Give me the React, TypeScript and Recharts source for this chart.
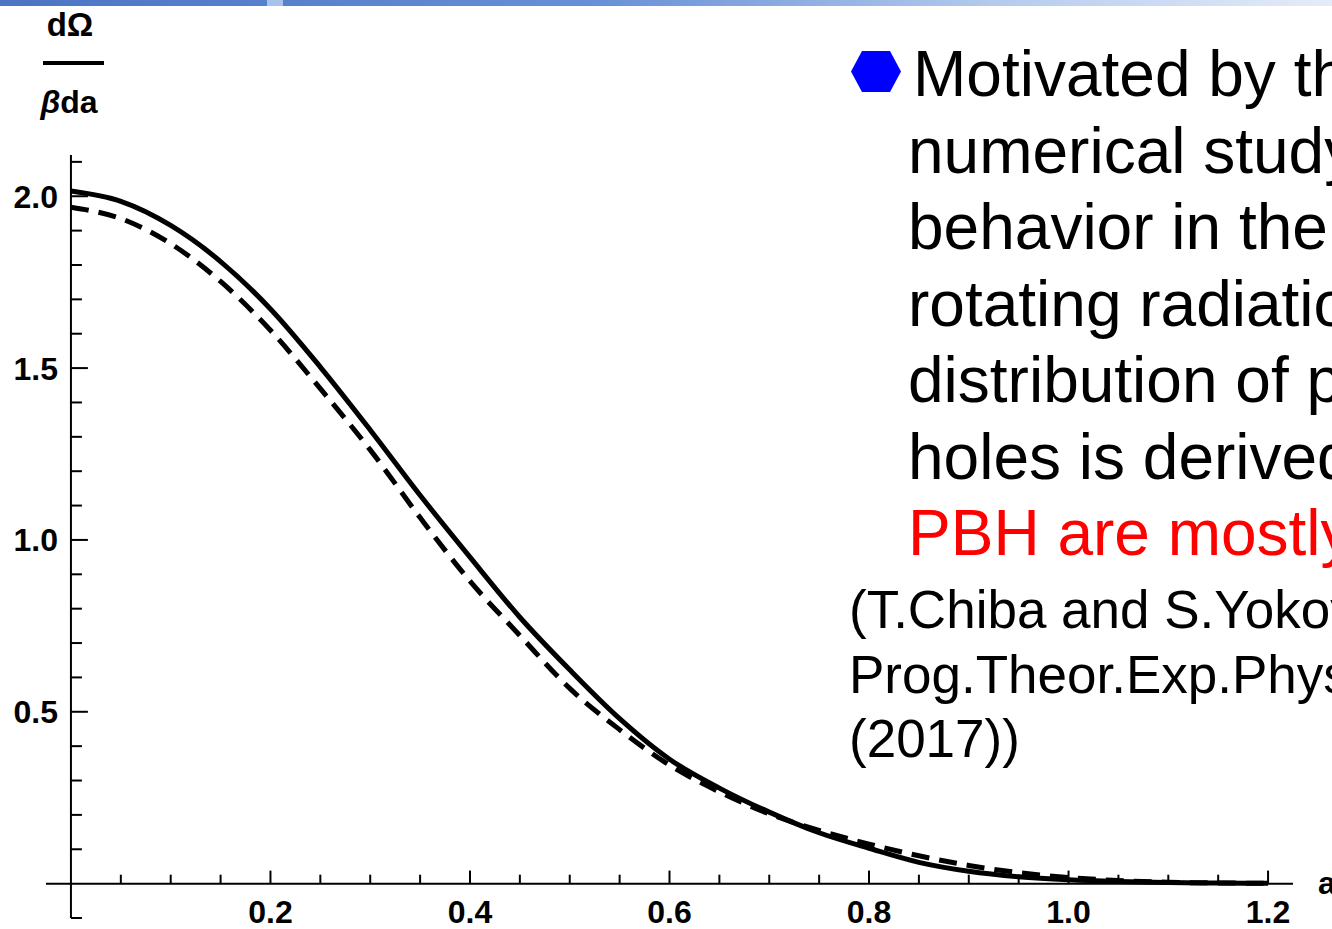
import React from 'react';
import { LineChart, Line, XAxis, YAxis, ReferenceLine } from 'recharts';

// Spin parameter grid and the two distribution curves
const aGrid = [0, 0.05, 0.1, 0.15, 0.2, 0.25, 0.3, 0.35, 0.4, 0.45, 0.5, 0.55, 0.6, 0.65, 0.7, 0.75, 0.8, 0.85, 0.9, 0.95, 1.0, 1.05, 1.1, 1.15, 1.2];
const solidCurve = [2.015, 1.985, 1.915, 1.81, 1.672, 1.503, 1.32, 1.13, 0.95, 0.775, 0.622, 0.48, 0.362, 0.278, 0.208, 0.148, 0.103, 0.062, 0.036, 0.02, 0.011, 0.006, 0.003, 0.0015, 0.001];
const dashedCurve = [1.968, 1.935, 1.862, 1.752, 1.61, 1.44, 1.262, 1.065, 0.88, 0.722, 0.568, 0.448, 0.345, 0.267, 0.203, 0.155, 0.115, 0.081, 0.053, 0.032, 0.018, 0.009, 0.004, 0.002, 0.001];

// Axis ticks
const xLabelTicks = [0.2, 0.4, 0.6, 0.8, 1.0, 1.2];
const xMinorTicks = [0.05, 0.1, 0.15, 0.25, 0.3, 0.35, 0.45, 0.5, 0.55, 0.65, 0.7, 0.75, 0.85, 0.9, 0.95, 1.05, 1.1, 1.15];
const yLabelTicks = [0.5, 1.0, 1.5, 2.0];
const yMinorTicks = [-0.1, 0.1, 0.2, 0.3, 0.4, 0.6, 0.7, 0.8, 0.9, 1.1, 1.2, 1.3, 1.4, 1.6, 1.7, 1.8, 1.9, 2.1];

const xDomain: [number, number] = [-0.025, 1.225];
const yDomain: [number, number] = [-0.1, 2.12];

// Slide text beside the plot
const bulletLines = [
  'Motivated by the',
  'numerical study',
  'behavior in the',
  'rotating radiation',
  'distribution of primordial black',
  'holes is derived',
];
const highlightLine = 'PBH are mostly';
const referenceLines = ['(T.Chiba and S.Yokoyama,', 'Prog.Theor.Exp.Phys.', '(2017))'];

const data = aGrid.map((a, i) => ({ a, solid: solidCurve[i], dashed: dashedCurve[i] }));

const FONT = '"Liberation Sans", Arial, Helvetica, sans-serif';
const tickTextStyle: React.CSSProperties = { fontFamily: FONT, fontSize: 32, fontWeight: 'bold', fill: '#000' };

// tick lengths in data units
const xMajorLen = 0.038;
const xMinorLen = 0.026;
const yMajorLen = 0.017;
const yMinorLen = 0.011;

const XTick = (props: any) => {
  const { x, y, payload } = props;
  return (
    <text x={x} y={y} dy={5} textAnchor="middle" style={tickTextStyle}>
      {Number(payload.value).toFixed(1)}
    </text>
  );
};

const YTick = (props: any) => {
  const { x, y, payload } = props;
  return (
    <text x={x + 12} y={y} dy={11.5} textAnchor="end" style={tickTextStyle}>
      {Number(payload.value).toFixed(1)}
    </text>
  );
};

export default function App() {
  return (
    <div style={{ position: 'absolute', left: 0, top: 0, width: 1332, height: 929, background: '#fff', overflow: 'hidden' }}>
      <LineChart
        width={1332}
        height={929}
        data={data}
        margin={{ top: 155, right: 39, bottom: 10, left: 45 }}
      >
        <XAxis
          type="number"
          dataKey="a"
          domain={xDomain}
          ticks={xLabelTicks}
          allowDataOverflow
          axisLine={false}
          tickLine={false}
          tickSize={0}
          tickMargin={0}
          height={1}
          interval={0}
          tick={XTick}
        />
        <YAxis
          type="number"
          domain={yDomain}
          ticks={yLabelTicks}
          allowDataOverflow
          axisLine={false}
          tickLine={false}
          tickSize={0}
          tickMargin={0}
          width={1}
          interval={0}
          tick={YTick}
        />
        <ReferenceLine y={0} stroke="#000" strokeWidth={2} ifOverflow="visible" />
        <ReferenceLine x={0} stroke="#000" strokeWidth={2} ifOverflow="visible" />
        {xLabelTicks.map((t) => (
          <ReferenceLine key={`xm${t}`} segment={[{ x: t, y: 0 }, { x: t, y: xMajorLen }]} stroke="#000" strokeWidth={2} ifOverflow="visible" />
        ))}
        {xMinorTicks.map((t) => (
          <ReferenceLine key={`xn${t}`} segment={[{ x: t, y: 0 }, { x: t, y: xMinorLen }]} stroke="#000" strokeWidth={2} ifOverflow="visible" />
        ))}
        {yLabelTicks.map((t) => (
          <ReferenceLine key={`ym${t}`} segment={[{ x: 0, y: t }, { x: yMajorLen, y: t }]} stroke="#000" strokeWidth={2} ifOverflow="visible" />
        ))}
        {yMinorTicks.map((t) => (
          <ReferenceLine key={`yn${t}`} segment={[{ x: 0, y: t }, { x: yMinorLen, y: t }]} stroke="#000" strokeWidth={2} ifOverflow="visible" />
        ))}
        <Line
          type="monotone"
          dataKey="dashed"
          stroke="#000"
          strokeWidth={5}
          strokeDasharray="18 10"
          dot={false}
          activeDot={false}
          isAnimationActive={false}
        />
        <Line
          type="monotone"
          dataKey="solid"
          stroke="#000"
          strokeWidth={5}
          dot={false}
          activeDot={false}
          isAnimationActive={false}
        />
      </LineChart>

      <svg
        width={1332}
        height={929}
        style={{ position: 'absolute', left: 0, top: 0, pointerEvents: 'none' }}
      >
        <defs>
          <linearGradient id="topBar" x1="0" y1="0" x2="1" y2="0">
            <stop offset="0%" stopColor="#4b74c4" />
            <stop offset="45%" stopColor="#6790d6" />
            <stop offset="75%" stopColor="#b5cbee" />
            <stop offset="100%" stopColor="#e4ecf8" />
          </linearGradient>
        </defs>
        <rect x={0} y={0} width={1332} height={6} fill="url(#topBar)" />
        <rect x={267} y={0} width={16} height={6} fill="#a8c2ee" />

        {/* y-axis label as a fraction */}
        <text x={70} y={36} textAnchor="middle" style={{ fontFamily: FONT, fontSize: 33, fontWeight: 'bold' }}>dΩ</text>
        <line x1={43} x2={104} y1={63} y2={63} stroke="#000" strokeWidth={4} />
        <text x={69} y={113} textAnchor="middle" style={{ fontFamily: FONT, fontSize: 32, fontWeight: 'bold' }}>
          <tspan fontStyle="italic">β</tspan>da
        </text>

        {/* x-axis label */}
        <text x={1318} y={894} style={{ fontFamily: FONT, fontSize: 32, fontWeight: 'bold' }}>a</text>

        {/* bullet */}
        <polygon points="851,71.5 862,51 890,51 901,71.5 890,92 862,92" fill="#0000ff" />

        {bulletLines.map((line, i) => (
          <text
            key={line}
            x={i === 0 ? 913 : 908}
            y={96 + i * 76.5}
            style={{ fontFamily: FONT, fontSize: 64, fill: '#000' }}
          >
            {line}
          </text>
        ))}
        <text x={908} y={555} style={{ fontFamily: FONT, fontSize: 64, fill: '#ff0000' }}>
          {highlightLine}
        </text>
        {referenceLines.map((line, i) => (
          <text key={line} x={849} y={628 + i * 64.5} style={{ fontFamily: FONT, fontSize: 53, fill: '#000' }}>
            {line}
          </text>
        ))}
      </svg>
    </div>
  );
}
